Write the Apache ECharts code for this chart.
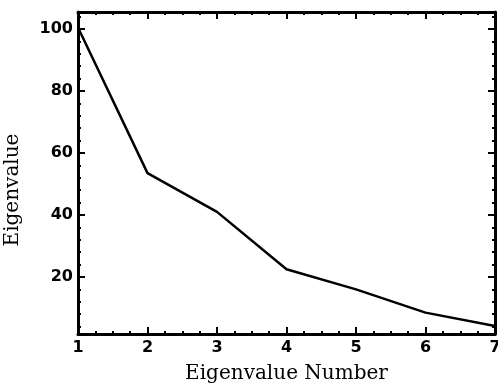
<!DOCTYPE html>
<html>
<head>
<meta charset="utf-8">
<script src="https://cdn.jsdelivr.net/npm/echarts@6/dist/echarts.min.js"></script>
<style>
  html, body { margin: 0; padding: 0; background: #fff; }
  #chart { width: 498px; height: 386px; }
</style>
</head>
<body>
<div id="chart"></div>
<script>
// eigenvalue index and values
var eigenNumbers = [1, 2, 3, 4, 5, 6, 7];
var eigenValues = [100.5, 53.5, 41, 22.5, 16, 8.5, 4.2];
var yMajorTicks = [20, 40, 60, 80, 100];
var yMinorTicks = [4, 8, 12, 16, 24, 28, 32, 36, 44, 48, 52, 56, 64, 68, 72, 76, 84, 88, 92, 96, 104];

var yMin = 1.6, yMax = 105.5;
var labelFont = { color: '#000', fontFamily: 'DejaVu Sans, sans-serif', fontWeight: 'bold', fontSize: 16 };
var nameFont = { color: '#000', fontFamily: 'DejaVu Serif, serif', fontSize: 20 };
var lineStyle = { color: '#000', width: 3 };

var seriesData = [];
for (var i = 0; i < eigenNumbers.length; i++) {
    seriesData.push([eigenNumbers[i], eigenValues[i]]);
}

function yAxisDef(pos, ticks, len, labels, line) {
    return {
        type: 'value', position: pos, min: yMin, max: yMax,
        axisLine: { show: line, lineStyle: lineStyle },
        axisTick: { show: true, inside: true, length: len, customValues: ticks, lineStyle: { color: '#000', width: 2 } },
        axisLabel: labels ? Object.assign({ customValues: ticks, margin: 5 }, labelFont) : { show: false },
        splitLine: { show: false }
    };
}

var myChart = echarts.init(document.getElementById('chart'));
var option = {
    animation: false,
    backgroundColor: '#fff',
    grid: { left: 78, top: 12, right: 3, bottom: 52, outerBoundsMode: 'none' },
    xAxis: [{
        type: 'value', position: 'bottom', min: 1, max: 7, interval: 1,
        name: 'Eigenvalue Number', nameLocation: 'middle', nameGap: 30,
        nameTextStyle: nameFont,
        axisLine: { lineStyle: lineStyle },
        axisTick: { inside: true, length: 7, lineStyle: { color: '#000', width: 2 } },
        minorTick: { show: true, splitNumber: 4, length: 3, lineStyle: { color: '#000', width: 2 } },
        axisLabel: Object.assign({ margin: 6 }, labelFont),
        splitLine: { show: false }
    }, {
        type: 'value', position: 'top', min: 1, max: 7, interval: 1,
        axisLine: { lineStyle: lineStyle },
        axisTick: { inside: true, length: 7, lineStyle: { color: '#000', width: 2 } },
        minorTick: { show: true, splitNumber: 4, length: 3, lineStyle: { color: '#000', width: 2 } },
        axisLabel: { show: false },
        splitLine: { show: false }
    }],
    yAxis: [
        Object.assign(yAxisDef('left', yMajorTicks, 7, true, true), {
            name: 'Eigenvalue', nameLocation: 'middle', nameGap: 55,
            nameTextStyle: Object.assign({ padding: [0, 34, 0, 0] }, nameFont)
        }),
        yAxisDef('left', yMinorTicks, 3, false, false),
        yAxisDef('right', yMajorTicks, 7, false, true),
        yAxisDef('right', yMinorTicks, 3, false, false)
    ],
    series: [{
        type: 'line',
        data: seriesData,
        symbol: 'none',
        lineStyle: { color: '#000', width: 2.5 }
    }]
};
myChart.setOption(option);
</script>
</body>
</html>
